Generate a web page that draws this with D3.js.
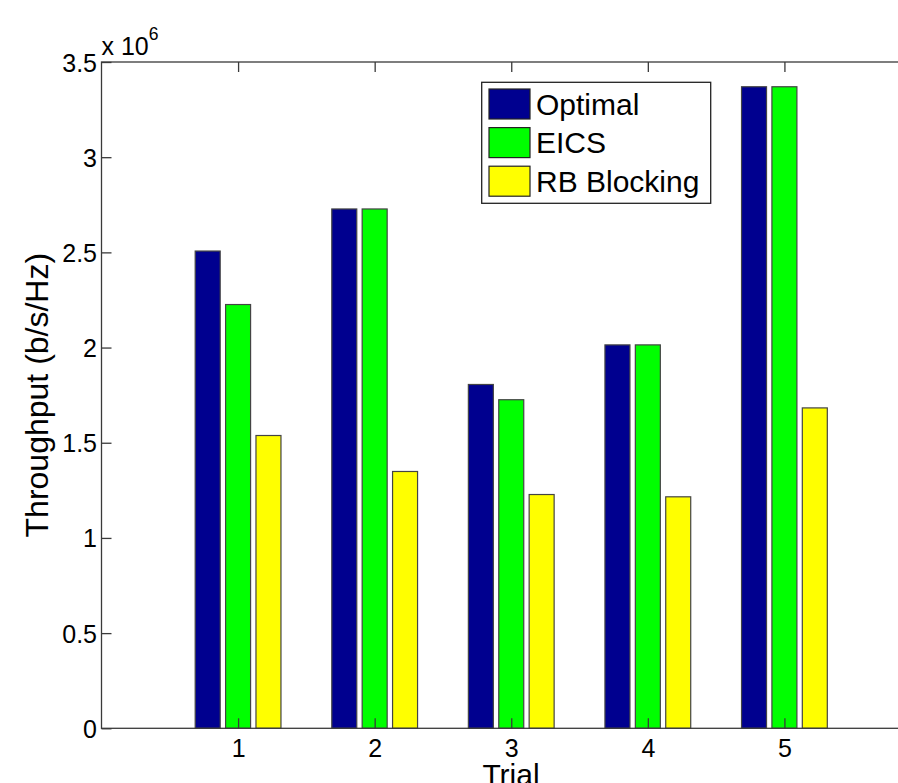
<!DOCTYPE html>
<html><head><meta charset="utf-8">
<script src="https://cdn.jsdelivr.net/npm/d3@7"></script>
<style>body{margin:0;background:#fff;} svg{display:block;} text{font-family:"Liberation Sans",Arial,sans-serif;fill:#000;}</style>
</head><body>
<svg id="c" width="898" height="783"></svg>
<script>
const trials = [1, 2, 3, 4, 5];
const seriesNames = ["Optimal", "EICS", "RB Blocking"];
const optimal = [2.507e6, 2.728e6, 1.806e6, 2.014e6, 3.37e6];
const eics = [2.226e6, 2.728e6, 1.726e6, 2.014e6, 3.37e6];
const rbBlocking = [1.538e6, 1.349e6, 1.228e6, 1.216e6, 1.683e6];
const colors = ["#00008f", "#00ff00", "#ffff00"];
const yTicks = [0, 0.5e6, 1e6, 1.5e6, 2e6, 2.5e6, 3e6, 3.5e6];
const yTickLabels = ["0", "0.5", "1", "1.5", "2", "2.5", "3", "3.5"];
const series = [optimal, eics, rbBlocking];

const svg = d3.select("#c");
const x = d3.scaleLinear().domain([0, 6]).range([101.5, 921]);
const y = d3.scaleLinear().domain([0, 3.5e6]).range([728.3, 62]);
const off = d3.scaleLinear().domain([0, 2]).range([-0.2225, 0.2225]);
const bw = 0.183;
const axisCol = "#3a3a3a";
const ff = '"Liberation Sans",Arial,sans-serif';

// bars
series.forEach((vals, si) => {
  svg.append("g").selectAll("rect").data(vals).join("rect")
    .attr("x", (d, i) => x(trials[i] + off(si) - bw / 2))
    .attr("width", x(bw) - x(0))
    .attr("y", d => y(d))
    .attr("height", d => y(0) - y(d))
    .attr("fill", colors[si])
    .attr("stroke", "#444").attr("stroke-width", 1.2);
});

// axes box
const [x0, x1] = x.range();
const [yb, yt] = y.range();
svg.append("rect").attr("x", x0).attr("y", yt).attr("width", x1 - x0).attr("height", yb - yt)
  .attr("fill", "none").attr("stroke", axisCol).attr("stroke-width", 1.3);

const tl = 10;
// y ticks
const yAxisL = d3.axisLeft(y).tickValues(yTicks).tickSize(-tl).tickFormat((d, i) => yTickLabels[i]).tickPadding(4.5);
const gy = svg.append("g").attr("transform", `translate(${x0},0)`).call(yAxisL);
gy.select(".domain").remove();
gy.selectAll("line").attr("stroke", axisCol).attr("stroke-width", 1.3);
gy.selectAll("text").attr("font-size", 25).attr("dy", "0.36em").attr("fill", "#000").style("font-family", ff);
const yAxisR = d3.axisRight(y).tickValues(yTicks).tickSize(-tl).tickFormat("");
const gyr = svg.append("g").attr("transform", `translate(${x1},0)`).call(yAxisR);
gyr.select(".domain").remove();
gyr.selectAll("line").attr("stroke", axisCol).attr("stroke-width", 1.3);

// x ticks
const xAxisB = d3.axisBottom(x).tickValues(trials).tickSize(-tl).tickFormat(d3.format("d")).tickPadding(10.5);
const gx = svg.append("g").attr("transform", `translate(0,${yb})`).call(xAxisB);
gx.select(".domain").remove();
gx.selectAll("line").attr("stroke", axisCol).attr("stroke-width", 1.3);
gx.selectAll("text").attr("font-size", 25).attr("fill", "#000").style("font-family", ff);
const xAxisT = d3.axisTop(x).tickValues(trials).tickSize(-tl).tickFormat("");
const gxt = svg.append("g").attr("transform", `translate(0,${yt})`).call(xAxisT);
gxt.select(".domain").remove();
gxt.selectAll("line").attr("stroke", axisCol).attr("stroke-width", 1.3);

// exponent label
const ex = svg.append("text").attr("x", x0).attr("y", 55).attr("font-size", 25);
ex.append("tspan").text("x 10");
ex.append("tspan").attr("dy", -15.5).attr("font-size", 17.5).text("6");

// axis labels
svg.append("text").attr("x", 511).attr("y", 785).attr("text-anchor", "middle")
  .attr("font-size", 30).text("Trial");
svg.append("text").attr("transform", `translate(48,${(yt + yb) / 2}) rotate(-90)`)
  .attr("text-anchor", "middle").attr("font-size", 32).text("Throughput (b/s/Hz)");

// legend
const lg = svg.append("g");
lg.append("rect").attr("x", 481.7).attr("y", 82.3).attr("width", 229).attr("height", 121)
  .attr("fill", "#fff").attr("stroke", "#222").attr("stroke-width", 1.3);
seriesNames.forEach((n, i) => {
  const ry = 89 + i * 38.6;
  lg.append("rect").attr("x", 489).attr("y", ry).attr("width", 41).attr("height", 30)
    .attr("fill", colors[i]).attr("stroke", "#222").attr("stroke-width", 1.2);
  lg.append("text").attr("x", 536).attr("y", ry + 25.5).attr("font-size", 30).text(n);
});
</script>
</body></html>
